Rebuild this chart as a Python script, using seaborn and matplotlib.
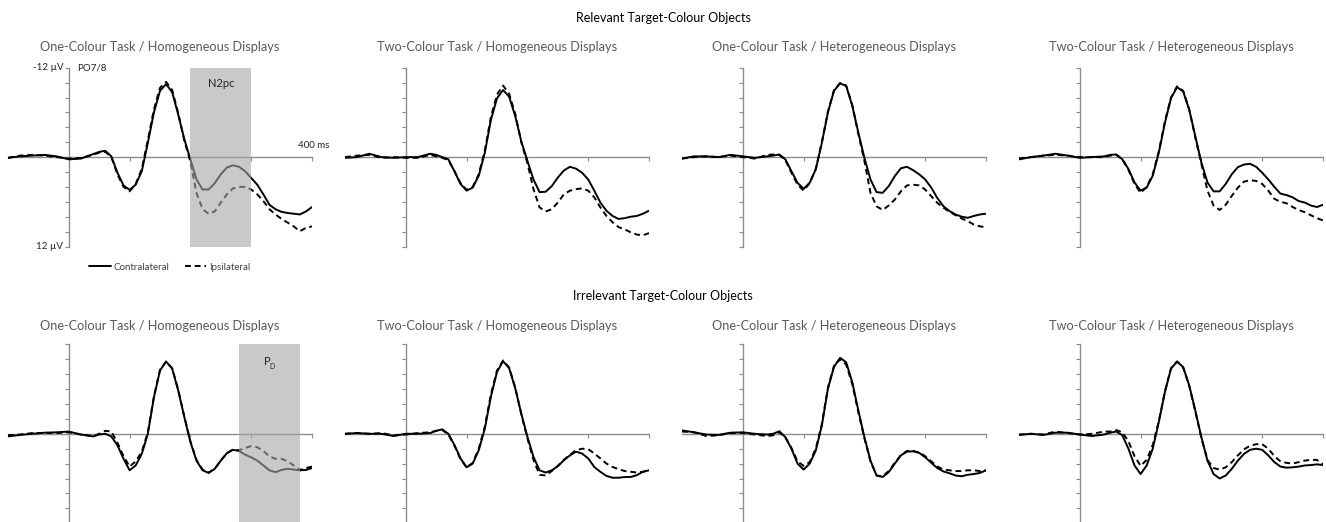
import pandas as pd
import matplotlib
matplotlib.use('Agg')
import matplotlib.pyplot as plt
import seaborn as sns

# time axis (ms) and ERP amplitudes (µV, negative plotted upwards)
times = [-100, -80, -60, -40, -20, 0, 20] + list(range(40, 401, 10))

panel_titles = ['One-Colour Task / Homogeneous Displays',
                'Two-Colour Task / Homogeneous Displays',
                'One-Colour Task / Heterogeneous Displays',
                'Two-Colour Task / Heterogeneous Displays']
row_titles = ['Relevant Target-Colour Objects', 'Irrelevant Target-Colour Objects']
sides = ['Contralateral', 'Ipsilateral']

rel_1h_contra = [0.1, -0.1, -0.2, -0.3, -0.1, 0.3, 0.2,
                 -0.4, -0.7, -0.85, -0.1, 2.1, 3.8, 4.4, 3.7, 1.9, -1.9, -6.0, -8.9, -9.8, -8.7, -5.7, -2.4,
                 0.3, 3.0, 4.35, 4.35, 3.5, 2.3, 1.4, 1.1, 1.3, 1.9, 2.8, 3.7, 5.0, 6.4, 7.0, 7.35, 7.5, 7.6,
                 7.7, 7.3, 6.7]
rel_1h_ipsi = [0.1, -0.2, -0.3, -0.2, 0.0, 0.2, 0.1,
               -0.3, -0.6, -0.7, 0.0, 2.3, 4.0, 4.6, 3.6, 1.6, -2.3, -6.4, -9.3, -10.1, -9.0, -5.9, -2.2,
               0.6, 4.8, 7.0, 7.6, 7.3, 6.1, 5.0, 4.2, 4.0, 4.0, 4.35, 5.0, 5.9, 7.0, 7.7, 8.3, 8.8, 9.3,
               9.95, 9.5, 9.3]
rel_2h_contra = [0.1, 0.0, -0.45, 0.0, 0.1, 0.0, 0.0,
                 -0.45, -0.3, 0.0, 0.3, 1.9, 3.6, 4.5, 4.1, 2.5, -0.6, -5.0, -7.9, -9.0, -8.1, -5.5, -2.1,
                 0.5, 3.0, 4.7, 4.65, 3.9, 2.75, 1.8, 1.3, 1.55, 2.1, 3.0, 4.5, 6.1, 7.2, 7.9, 8.3, 8.2, 8.0,
                 7.9, 7.6, 7.2]
rel_2h_ipsi = [0.0, -0.2, -0.3, 0.1, 0.0, 0.1, 0.1,
               -0.3, -0.1, 0.1, 0.4, 1.9, 3.5, 4.4, 4.0, 2.3, -0.9, -5.4, -8.4, -9.6, -8.5, -5.8, -2.0,
               0.8, 4.3, 6.75, 7.3, 7.0, 6.1, 5.0, 4.5, 4.3, 4.2, 4.5, 5.4, 6.75, 7.9, 8.75, 9.4, 9.7, 10.1,
               10.4, 10.5, 10.2]
rel_1x_contra = [0.2, -0.1, -0.1, 0.0, -0.3, -0.1, 0.1,
                 -0.1, -0.2, -0.35, 0.3, 1.9, 3.45, 4.25, 3.45, 1.65, -1.9, -6.0, -8.9, -9.9, -9.55, -6.9, -3.3,
                 0.1, 3.0, 4.7, 4.8, 3.9, 2.55, 1.5, 1.3, 1.75, 2.3, 3.0, 4.1, 5.5, 6.6, 7.25, 7.7, 8.0, 8.15,
                 7.9, 7.7, 7.6]
rel_1x_ipsi = [0.2, 0.0, -0.1, 0.0, -0.2, 0.0, 0.2,
               -0.3, -0.35, -0.3, 0.4, 2.1, 3.7, 4.5, 3.5, 1.6, -2.0, -6.1, -9.0, -9.95, -9.6, -7.0, -3.1,
               0.5, 4.8, 6.6, 7.1, 6.5, 5.7, 4.6, 3.8, 3.7, 3.8, 4.35, 5.25, 6.15, 6.8, 7.35, 7.8, 8.25, 8.6,
               9.05, 9.3, 9.4]
rel_2x_contra = [0.3, 0.0, -0.2, -0.45, -0.2, 0.1, 0.0,
                 -0.1, -0.3, -0.35, 0.3, 1.6, 3.4, 4.5, 4.1, 2.5, -0.6, -4.6, -7.9, -9.4, -8.8, -6.35, -2.8,
                 0.75, 3.4, 4.6, 4.6, 3.6, 2.3, 1.35, 1.0, 0.9, 1.3, 2.1, 3.0, 4.0, 4.9, 5.1, 5.4, 5.9, 6.1,
                 6.5, 6.7, 6.4]
rel_2x_ipsi = [0.2, 0.0, -0.2, -0.3, -0.2, 0.0, 0.0,
               0.0, -0.2, -0.3, 0.3, 1.7, 3.6, 4.8, 4.0, 2.3, -0.8, -4.8, -8.0, -9.5, -8.9, -6.4, -2.6,
               0.9, 4.5, 6.5, 7.1, 6.4, 5.2, 4.1, 3.3, 3.1, 3.2, 3.6, 4.5, 5.6, 6.0, 6.2, 6.7, 7.1, 7.4,
               7.8, 8.2, 8.5]

irr_1h_contra = [0.35, 0.15, 0.0, -0.15, -0.2, -0.3, 0.1,
                 0.35, 0.1, 0.0, 0.35, 1.55, 3.35, 4.9, 4.25, 2.7, 0.0, -4.9, -8.5, -9.7, -8.75, -5.8, -2.25,
                 1.1, 3.6, 4.9, 5.25, 4.7, 3.6, 2.6, 2.15, 2.3, 2.8, 3.15, 3.6, 4.25, 4.9, 5.15, 4.85, 4.7, 4.8,
                 4.9, 4.85, 4.6]
irr_1h_ipsi = [0.2, 0.1, -0.1, -0.1, -0.1, -0.2, 0.1,
               0.3, 0.0, -0.4, -0.3, 1.2, 3.0, 4.4, 3.7, 2.4, -0.2, -5.0, -8.6, -9.7, -8.8, -5.9, -2.3,
               1.0, 3.5, 4.8, 5.2, 4.7, 3.6, 2.6, 2.1, 2.2, 1.9, 1.65, 1.8, 2.3, 3.05, 3.35, 3.35, 3.7, 4.25,
               4.85, 4.6, 4.4]
irr_2h_contra = [0.0, -0.1, 0.0, 0.0, 0.3, 0.0, 0.0,
                 -0.1, -0.4, -0.6, 0.0, 1.5, 3.3, 4.5, 4.0, 2.2, -0.7, -5.0, -8.3, -9.75, -8.8, -6.1, -2.7,
                 0.4, 3.1, 4.9, 5.2, 4.9, 4.35, 3.55, 2.9, 2.4, 2.65, 3.3, 4.45, 5.1, 5.65, 5.9, 5.9, 5.8, 5.8,
                 5.55, 5.1, 4.9]
irr_2h_ipsi = [0.0, -0.1, 0.0, -0.1, 0.2, 0.1, -0.1,
               -0.2, -0.4, -0.5, 0.1, 1.6, 3.4, 4.5, 3.9, 2.0, -1.0, -5.3, -8.5, -9.85, -8.9, -6.2, -2.6,
               0.6, 3.5, 5.5, 5.6, 5.0, 4.3, 3.5, 2.8, 2.2, 2.0, 2.05, 2.65, 3.3, 4.0, 4.45, 4.75, 5.0, 5.1,
               5.2, 5.1, 4.9]
irr_1x_contra = [-0.45, -0.2, 0.1, 0.15, -0.15, -0.2, 0.0,
                 0.1, 0.0, -0.35, 0.45, 2.0, 4.0, 4.8, 4.0, 2.25, -1.1, -6.05, -9.0, -10.2, -9.6, -6.95, -3.15,
                 0.45, 3.6, 5.6, 5.8, 5.15, 4.0, 2.9, 2.4, 2.35, 2.55, 3.15, 3.9, 4.6, 5.05, 5.3, 5.6, 5.7, 5.5,
                 5.4, 5.25, 4.9]
irr_1x_ipsi = [-0.3, -0.2, 0.3, 0.2, -0.1, -0.1, 0.1,
               0.3, 0.2, -0.2, 0.5, 1.9, 3.7, 4.3, 3.8, 2.0, -1.3, -6.2, -9.1, -10.0, -9.3, -6.7, -2.9,
               0.6, 3.7, 5.6, 5.7, 5.0, 3.9, 2.85, 2.3, 2.3, 2.5, 3.0, 3.7, 4.4, 4.8, 4.9, 5.0, 5.0, 4.9,
               4.9, 5.0, 4.9]
irr_2x_contra = [0.15, 0.0, 0.15, -0.15, -0.15, 0.1, 0.3,
                 0.1, -0.15, -0.3, 0.2, 2.0, 4.25, 5.4, 4.25, 2.0, -1.6, -5.6, -8.75, -9.7, -8.95, -6.5, -3.1,
                 0.45, 3.6, 5.4, 6.0, 5.6, 4.7, 3.6, 2.7, 2.15, 2.0, 2.15, 2.9, 3.8, 4.4, 4.55, 4.5, 4.4, 4.25,
                 4.2, 4.1, 4.2]
irr_2x_ipsi = [0.1, 0.0, 0.1, -0.3, -0.1, 0.1, 0.0,
               -0.3, -0.3, -0.5, -0.2, 1.0, 3.0, 4.3, 3.5, 1.5, -1.7, -5.7, -8.8, -9.7, -8.9, -6.4, -3.0,
               0.6, 3.5, 4.6, 4.8, 4.5, 3.8, 2.9, 2.1, 1.6, 1.4, 1.4, 2.0, 3.0, 3.7, 3.9, 4.0, 3.8, 3.6,
               3.5, 3.5, 4.1]

panels = [
    [(rel_1h_contra, rel_1h_ipsi), (rel_2h_contra, rel_2h_ipsi),
     (rel_1x_contra, rel_1x_ipsi), (rel_2x_contra, rel_2x_ipsi)],
    [(irr_1h_contra, irr_1h_ipsi), (irr_2h_contra, irr_2h_ipsi),
     (irr_1x_contra, irr_1x_ipsi), (irr_2x_contra, irr_2x_ipsi)],
]

sns.set_style('white')
plt.rcParams['font.family'] = ['Lato', 'DejaVu Sans']

W, H = 1326, 522
fig = plt.figure(figsize=(W / 100, H / 100), dpi=100)

axis_grey = '#8c8c8c'
dash = (0, (3, 2))
row_tops = [67.7, 344.4]      # pixel y of -12 µV
row_span = 178.8               # pixel height -12..12 µV

for r in range(2):
    for c in range(4):
        left_px = 8 + 337 * c
        ax = fig.add_axes([left_px / W, 1 - (row_tops[r] + row_span) / H, 304 / W, row_span / H])
        contra, ipsi = panels[r][c]
        df = pd.DataFrame({'time': times * 2,
                           'uV': contra + ipsi,
                           'side': [sides[0]] * len(times) + [sides[1]] * len(times)})
        sns.lineplot(data=df, x='time', y='uV', style='side', style_order=sides,
                     dashes={sides[0]: '', sides[1]: dash[1]}, color='black', lw=1.4,
                     estimator=None, legend=False, ax=ax, zorder=3)
        ax.set_xlim(-100, 400)
        ax.set_ylim(12, -12)
        ax.set_xlabel('')
        ax.set_ylabel('')
        for s in ['top', 'right']:
            ax.spines[s].set_visible(False)
        ax.spines['left'].set_position(('data', 0))
        ax.spines['bottom'].set_position(('data', 0))
        for s in ['left', 'bottom']:
            ax.spines[s].set_color(axis_grey)
            ax.spines[s].set_linewidth(1.0)
            ax.spines[s].set_zorder(2)
        ax.set_xticks([100, 200, 300, 400])
        ax.set_yticks(range(-12, 13, 2))
        ax.tick_params(axis='both', direction='out', length=3, width=0.8, color=axis_grey,
                       labelleft=False, labelbottom=False, left=True, bottom=True)
        ax.patch.set_alpha(0)

        fig.text((left_px + 152) / W, 1 - (47 if r == 0 else 326) / H, panel_titles[c],
                 ha='center', va='center', fontsize=9.2, color='#595959')

        if r == 0 and c == 0:
            ax.axvspan(200, 300, color='#a6a6a6', alpha=0.6, lw=0, zorder=4)
            ax.text(250, -9.9, 'N2pc', ha='center', va='center', fontsize=8, color='#222222', zorder=5)
            ax.text(-9, -12, '-12 µV', ha='right', va='center', fontsize=7, color='#222222')
            ax.text(-9, 12, '12 µV', ha='right', va='center', fontsize=7, color='#222222')
            ax.text(14, -12, 'PO7/8', ha='left', va='center', fontsize=7, color='#222222')
            ax.text(402, -1.5, '400 ms', ha='center', va='center', fontsize=7, color='#222222', clip_on=False)
            handles = ax.get_lines()[:2]
        if r == 1 and c == 0:
            ax.axvspan(280, 380, color='#a6a6a6', alpha=0.6, lw=0, zorder=4)
            ax.text(326, -9.65, 'P', ha='center', va='center', fontsize=8, color='#222222', zorder=5)
            ax.text(334, -9.1, 'D', ha='center', va='center', fontsize=5, color='#222222', zorder=5)

fig.text(0.5, 1 - 18 / H, row_titles[0], ha='center', va='center', fontsize=9, color='black')
fig.text(0.5, 1 - 296 / H, row_titles[1], ha='center', va='center', fontsize=9, color='black')

leg = fig.legend(handles, sides, loc='center', bbox_to_anchor=(170 / W, 1 - 267 / H), ncol=2,
                 frameon=False, fontsize=7, handlelength=2.2, columnspacing=1.6, handletextpad=0.3,
                 labelcolor='#404040')

fig.savefig('out.png', dpi=100)
